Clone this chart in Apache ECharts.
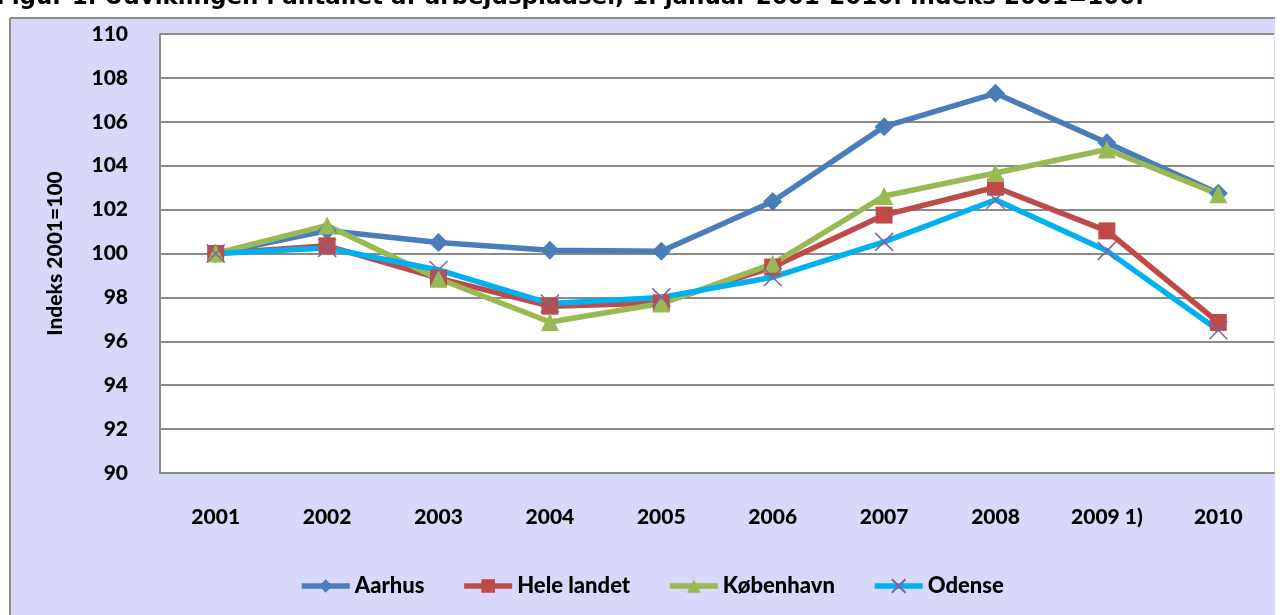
<!DOCTYPE html>
<html>
<head>
<meta charset="utf-8">
<script src="https://cdn.jsdelivr.net/npm/echarts@6/dist/echarts.min.js"></script>
<style>
  html, body { margin: 0; padding: 0; background: #ffffff; }
  #main { width: 1288px; height: 615px; }
</style>
</head>
<body>
<div id="main"></div>
<script>
  // data
  var years = ['2001', '2002', '2003', '2004', '2005', '2006', '2007', '2008', '2009 1)', '2010'];
  var aarhus = [100, 101.05, 100.5, 100.15, 100.1, 102.37, 105.78, 107.3, 105.05, 102.75];
  var heleLandet = [100, 100.35, 98.88, 97.6, 97.75, 99.38, 101.75, 103.02, 101.03, 96.86];
  var kobenhavn = [100, 101.28, 98.85, 96.88, 97.72, 99.53, 102.62, 103.67, 104.74, 102.7];
  var odense = [100, 100.25, 99.25, 97.72, 98.0, 98.92, 100.53, 102.45, 100.12, 96.5];

  var font = 'Lato';
  var myChart = echarts.init(document.getElementById('main'));

  function lineSeries(name, data, color, symbol, size, markerColor) {
    return {
      name: name,
      type: 'line',
      data: data,
      symbol: symbol,
      symbolSize: size,
      lineStyle: {color: color, width: 5.5},
      itemStyle: {color: markerColor || color},
      emphasis: {disabled: true}
    };
  }

  // Odense uses a thin purple cross as marker
  var odenseSeries = lineSeries('Odense', odense, '#00B0F0', 'path://M0,0L10,10M10,0L0,10', 18, '#7E649E');
  odenseSeries.itemStyle = {color: '#7E649E', borderColor: '#7E649E', borderWidth: 1.5};

  myChart.setOption({
    backgroundColor: '#ffffff',
    animation: false,
    graphic: [
      // lavender chart panel
      {type: 'rect', z: -100, shape: {x: 10, y: 18, width: 1265, height: 620},
        style: {fill: '#D8D8FB'}},
      {type: 'line', z: -99, shape: {x1: 10, y1: 18, x2: 1275, y2: 18},
        style: {stroke: '#8C8C8C', lineWidth: 2}},
      {type: 'line', z: -99, shape: {x1: 10, y1: 18, x2: 10, y2: 615},
        style: {stroke: '#8C8C8C', lineWidth: 2}},
      // figure caption, cut at the top edge
      {type: 'text', left: -4, top: -13,
        style: {text: 'Figur 1. Udviklingen i antallet af arbejdspladser, 1. januar 2001-2010. Indeks 2001=100.',
          font: 'bold 23px "DejaVu Sans"', fill: '#000000'}}
    ],
    grid: {left: 160, top: 34, right: 14, bottom: 142, show: true,
      backgroundColor: '#ffffff', borderWidth: 0},
    legend: {
      left: 294, top: 570,
      itemWidth: 48, itemHeight: 17, itemGap: 37,
      lineStyle: {width: 5.5},
      textStyle: {fontFamily: font, fontWeight: 900, fontSize: 22, color: '#000'},
      data: ['Aarhus', 'Hele landet', 'København', 'Odense']
    },
    xAxis: {
      type: 'category',
      data: years,
      axisLine: {lineStyle: {color: '#8A8A8A', width: 2}},
      axisTick: {show: false},
      axisLabel: {margin: 34, fontFamily: font, fontWeight: 900, fontSize: 21, color: '#000'}
    },
    yAxis: {
      type: 'value',
      min: 90, max: 110, interval: 2,
      name: 'Indeks 2001=100',
      nameLocation: 'middle',
      nameGap: 94,
      nameTextStyle: {fontFamily: font, fontWeight: 900, fontSize: 21, color: '#000'},
      axisLine: {show: true, lineStyle: {color: '#8A8A8A', width: 2}},
      axisTick: {show: false},
      splitLine: {lineStyle: {color: '#8A8A8A', width: 2}},
      axisLabel: {margin: 32, fontFamily: font, fontWeight: 900, fontSize: 21, color: '#000'}
    },
    series: [
      lineSeries('Aarhus', aarhus, '#4A7EBB', 'diamond', 19),
      lineSeries('Hele landet', heleLandet, '#BE4B48', 'rect', 17),
      lineSeries('København', kobenhavn, '#98B954', 'triangle', 18),
      odenseSeries
    ]
  });
</script>
</body>
</html>
